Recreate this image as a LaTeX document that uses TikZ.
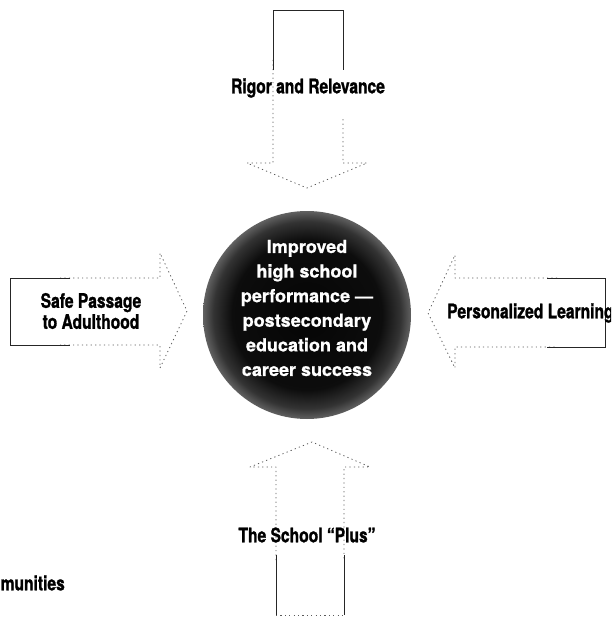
\documentclass[tikz,border=0pt]{standalone}
\usepackage{fontspec}
\setmainfont{TeX Gyre Heros}[FakeBold=0.8]
\newfontfamily\labelfont{TeX Gyre Heros}[FakeStretch=0.78,FakeBold=1.2]
\pgfdeclareradialshading{ballshade}{\pgfpointorigin}{color(0bp)=(black!98); color(18bp)=(black!95); color(22.5bp)=(black!80); color(25bp)=(black!62); color(50bp)=(black!62)}
\begin{document}
\begin{tikzpicture}[x=1pt,y=-1pt,
  faint/.style={draw=black!65, line width=0.8pt, dash pattern=on 1.2pt off 3.2pt, line join=round},
  firm/.style={draw=black!85, line width=1pt, line join=miter},
  lbl/.style={font=\labelfont\bfseries\fontsize{20}{21}\selectfont, inner sep=0pt, text=black},
  goalstyle/.style={circle, minimum size=208pt, inner sep=0pt, shading=ballshade},
  goaltextstyle/.style={font=\bfseries\fontsize{18}{24.6}\selectfont, text=white, align=center, inner sep=0pt}]
\useasboundingbox (0,0) rectangle (611,618);
\clip (0,0) rectangle (611,618);

% top arrow: Rigor and Relevance
\draw[faint] (273,60) -- (273,163) -- (247,163) -- (307,188) -- (367,163) -- (343,163) -- (343,118);
\draw[firm] (273,70) -- (273,11) -- (343,11) -- (343,70);

% left arrow: Safe Passage to Adulthood
\draw[faint] (60,278) -- (160,278) -- (160,253) -- (187,311) -- (160,368) -- (160,345) -- (60,345);
\draw[firm] (70,278) -- (10,278) -- (10,345) -- (70,345);

% right arrow: Personalized Learning
\draw[faint] (557,278) -- (455,278) -- (455,255) -- (428,313) -- (455,368) -- (455,347) -- (557,347);
\draw[firm] (547,278) -- (605,278) -- (605,347) -- (547,347);

% bottom arrow: The School "Plus"
\draw[faint] (276,560) -- (276,467) -- (250,467) -- (312,442) -- (370,467) -- (344,467) -- (344,560);
\draw[faint] (276,615) -- (344,615);
\draw[firm] (276,555) -- (276,615);
\draw[firm] (344,555) -- (344,615);

% centre goal
\node[goalstyle] (goal) at (307,315) {};
\node[goaltextstyle] (goaltext) at (307,308) {Improved\\high school\\performance —\\postsecondary\\education and\\career success};

% labels
\node[lbl] (rigor) at (308,88) {Rigor and Relevance};
\node[lbl, align=center] (safe) at (91,311) {Safe Passage\\to Adulthood};
\node[lbl, anchor=west] (personal) at (447,313) {Personalized Learning};
\node[lbl] (plus) at (307,535) {The School “Plus”};
\node[lbl, anchor=east] (comm) at (65,583) {Communities};
\end{tikzpicture}
\end{document}
